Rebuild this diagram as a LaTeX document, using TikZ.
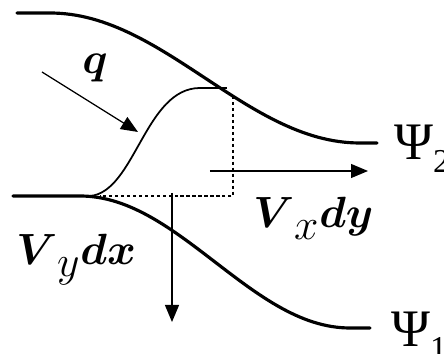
\documentclass[tikz,border=0pt]{standalone}
\usepackage{amsmath,amssymb}
\usepackage{fontspec}
\newfontfamily\psifont{Liberation Serif}
\usepackage{tikz}
\usetikzlibrary{arrows.meta}
\tikzset{stream/.style={line width=1.8pt,line cap=round},inner/.style={line width=1pt},arr/.style={-{Triangle[length=3.4mm,width=2.8mm]},line width=0.7pt},guide/.style={line width=0.8pt,dash pattern=on 1.8pt off 1.6pt},lab/.style={inner sep=0pt,anchor=base west,font=\fontsize{35}{40}\selectfont},psi/.style={inner sep=0pt,anchor=base west,font=\psifont\fontsize{30}{36}\selectfont}}
\newcommand{\lowsub}[1]{_{\lower3pt\hbox{$\scriptstyle #1$}}}

\begin{document}
\begin{tikzpicture}[x=0.02cm,y=-0.02cm]
\useasboundingbox (0,0) rectangle (444,354);
\coordinate (qs) at (42,72);
\coordinate (qe) at (138,132);
\coordinate (vxs) at (210,171);
\coordinate (vxe) at (368,171);
\coordinate (vys) at (172,193);
\coordinate (vye) at (172,322);
\coordinate (top) at (227,88);
\coordinate (fork) at (90,196);
\coordinate (dtop) at (233,96);
\coordinate (corner) at (233,196);
\coordinate (dleft) at (100,196);
\node[lab] (q) at (82,74) {$\boldsymbol{q}$};
\node[lab] (vx) at (253,228) {$\boldsymbol{V}\lowsub{x}\boldsymbol{dy}$};
\node[lab] (vy) at (16,265) {$\boldsymbol{V}\lowsub{y}\boldsymbol{dx}$};
\node[psi] (psitwo) at (394,160) {Ψ\raisebox{-7pt}{\fontsize{19}{20}\selectfont 2}};
\node[psi] (psione) at (391,347) {Ψ\raisebox{-7pt}{\fontsize{19}{20}\selectfont 1}};
\draw[stream] (17,13) -- (50,13) -- plot[domain=50:360,samples=60] (\x,{13+65*(1-cos((\x-50)/310*180))}) -- (377,143);
\draw[stream] (13,196) -- (80,196) -- plot[domain=80:350,samples=60] (\x,{196+66*(1-cos((\x-80)/270*180))}) -- (370,328);
\draw[inner] (fork) .. controls (135,192) and (145,88) .. (200,88) -- (top);
\draw[guide] (dtop) -- (corner) -- (dleft);
\draw[arr] (qs) -- (qe);
\draw[arr] (vxs) -- (vxe);
\draw[arr] (vys) -- (vye);
\end{tikzpicture}
\end{document}
